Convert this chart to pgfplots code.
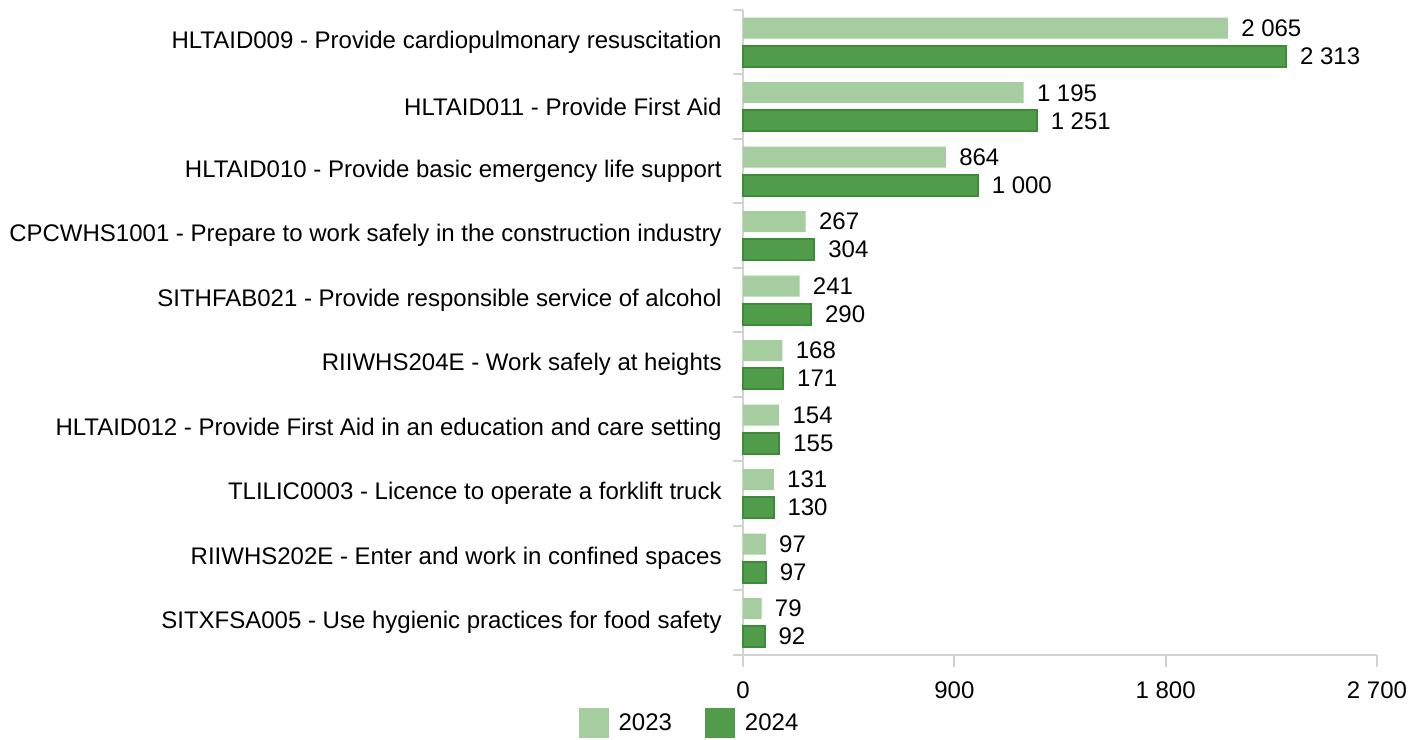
\documentclass[border=0pt]{standalone}
\usepackage{fontspec}
\setmainfont{Liberation Sans}
\usepackage{pgfplots}
\pgfplotsset{compat=1.18}
\definecolor{c23}{HTML}{A5CDA0}
\definecolor{c24}{HTML}{519C4A}
\definecolor{c24edge}{HTML}{3B8D33}
\definecolor{axgray}{HTML}{D2D2D2}
\begin{document}
\begin{tikzpicture}[font=\fontsize{12}{14}\selectfont]
\begin{axis}[
    scale only axis,
    width=317pt, height=322.5pt,
    xbar, bar width=10.5pt,
    xmin=0, xmax=2700, ymin=-0.5, ymax=9.5,
    clip=false,
    axis x line*=bottom, axis y line*=left,
    axis line style={draw=axgray, line width=1pt, -},
    xtick={0,900,1800,2700},
    x tick style={draw=axgray, line width=1pt},
    tick align=outside,
    major tick length=6pt,
    /pgf/number format/1000 sep={\ },
    /pgf/number format/assume math mode=true,
    ytick={0,...,9},
    yticklabels={
      SITXFSA005 - Use hygienic practices for food safety,
      RIIWHS202E - Enter and work in confined spaces,
      TLILIC0003 - Licence to operate a forklift truck,
      HLTAID012 - Provide First Aid in an education and care setting,
      RIIWHS204E - Work safely at heights,
      SITHFAB021 - Provide responsible service of alcohol,
      CPCWHS1001 - Prepare to work safely in the construction industry,
      HLTAID010 - Provide basic emergency life support,
      HLTAID011 - Provide First Aid,
      HLTAID009 - Provide cardiopulmonary resuscitation},
    y tick style={draw=none},
    yticklabel style={inner sep=0pt, xshift=-4.5pt},
    xticklabel style={inner sep=0pt, yshift=-7pt},
    extra y ticks={-0.5,0.5,...,9.5},
    extra y tick labels={},
    extra y tick style={y tick style={draw=axgray, line width=1pt}, major tick length=5pt},
    nodes near coords,
    nodes near coords style={inner sep=0pt, xshift=6.5pt, text=black},
    legend style={at={(rel axis cs:-0.086,-0.082)}, anchor=north, draw=none,
      legend columns=-1, inner sep=0pt, nodes={inner sep=0pt},
      /tikz/every odd column/.append style={column sep=5pt},
      /tikz/every even column/.append style={column sep=16.5pt}},
    legend image code/.code={\path[#1, draw=none] (0pt,-7.5pt) rectangle (15pt,7.5pt);},
]
\addplot[fill=c23, draw=none, bar shift=7pt] coordinates {
(2065,9) (1195,8) (864,7) (267,6) (241,5) (168,4) (154,3) (131,2) (97,1) (79,0)
};
\addlegendentry{2023}
\addplot[fill=c24, draw=c24edge, line width=1pt, bar shift=-7pt] coordinates {
(2313,9) (1251,8) (1000,7) (304,6) (290,5) (171,4) (155,3) (130,2) (97,1) (92,0)
};
\addlegendentry{2024}
\path (rel axis cs:-1.172,-0.1318) rectangle (rel axis cs:1.071,1.0155);
\end{axis}
\end{tikzpicture}
\end{document}
